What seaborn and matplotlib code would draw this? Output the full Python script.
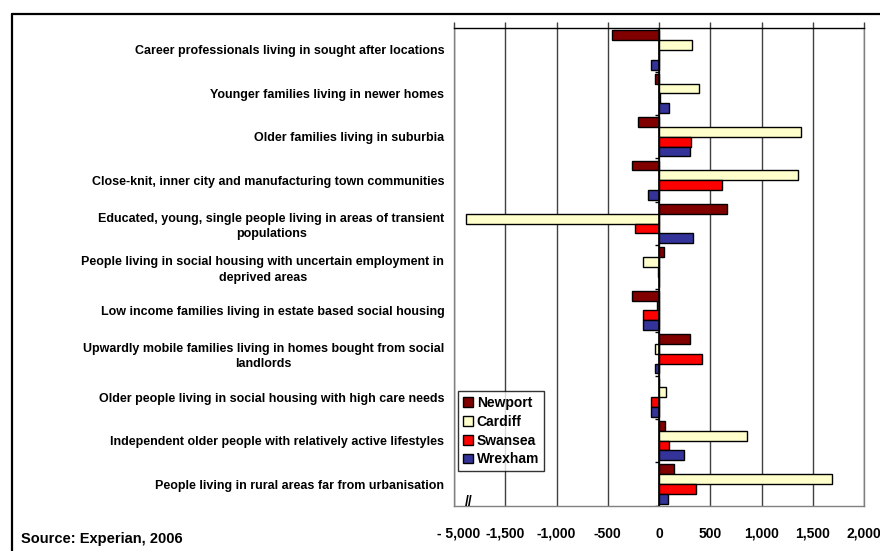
import matplotlib
matplotlib.use("Agg")
import matplotlib.pyplot as plt
from matplotlib.lines import Line2D
from matplotlib.patches import Patch
from matplotlib.transforms import ScaledTranslation
import numpy as np
import pandas as pd
import seaborn as sns

# Mosaic groups (top to bottom)
segments = [
    "Career professionals living in sought after locations",
    "Younger families living in newer homes",
    "Older families living in suburbia",
    "Close-knit, inner city and manufacturing town communities",
    "Educated, young, single people living in areas of transient\npopulations",
    "People living in social housing with uncertain employment in\ndeprived areas",
    "Low income families living in estate based social housing",
    "Upwardly mobile families living in homes bought from social\nlandlords",
    "Older people living in social housing with high care needs",
    "Independent older people with relatively active lifestyles",
    "People living in rural areas far from urbanisation",
]

cities = ["Newport", "Cardiff", "Swansea", "Wrexham"]

newport = [-455, -45, -211, -260, 660, 45, -266, 296, -5, 55, 140]
# The Cardiff bar for the transient-population group runs past the axis break;
# it is held at its position on the truncated scale (leftmost tick reads -5,000).
cardiff = [325, 390, 1381, 1352, -1880, -153, -23, -39, 62, 861, 1689]
swansea = [-5, 10, 309, 617, -237, -15, -159, 416, -81, 97, 357]
wrexham = [-84, 100, 296, -104, 331, -5, -159, -45, -75, 240, 84]

tick_values = [-2000, -1500, -1000, -500, 0, 500, 1000, 1500, 2000]
tick_labels = ["- 5,000", "-1,500", "-1,000", "-500", "0", "500", "1,000", "1,500", "2,000"]

colors = {"Newport": "#800000", "Cardiff": "#FFFFCC", "Swansea": "#FF0000", "Wrexham": "#333399"}

df = pd.DataFrame({
    "segment": segments * 4,
    "city": np.repeat(cities, len(segments)),
    "change": newport + cardiff + swansea + wrexham,
})

sns.set_style("white")
plt.rcParams["font.family"] = ["Liberation Sans", "DejaVu Sans"]
plt.rcParams["font.weight"] = "bold"
plt.rcParams["text.color"] = "black"
plt.rcParams["xtick.color"] = "black"
plt.rcParams["ytick.color"] = "black"
plt.rcParams["xtick.labelcolor"] = "black"
plt.rcParams["ytick.labelcolor"] = "black"

W, H = 880, 551
fig = plt.figure(figsize=(W / 100, H / 100), dpi=100)
ax = fig.add_axes([454 / W, 1 - 505.7 / H, (864.3 - 454) / W, (505.7 - 28.3) / H])

sns.barplot(data=df, y="segment", x="change", hue="city", hue_order=cities,
            order=segments, orient="h", palette=colors, saturation=1, width=0.9,
            edgecolor="black", linewidth=1.0, legend=False, ax=ax, errorbar=None)

ax.set_xlim(-2000, 2000)
ax.set_ylim(len(segments) - 0.5, -0.5)
ax.set_xlabel("")
ax.set_ylabel("")

# Value axis: grid, tick marks along the top, labels below
ax.set_xticks(tick_values)
ax.set_xticklabels(tick_labels, fontsize=10, fontweight="bold", color="black")
ax.xaxis.grid(True, color="#404040", linewidth=1.0)
ax.set_axisbelow(True)
ax.tick_params(axis="x", top=True, bottom=False, labeltop=False, labelbottom=True,
               direction="out", length=4, width=1, color="#404040", pad=11)
first = ax.get_xticklabels()[0]
first.set_transform(first.get_transform() + ScaledTranslation(5 / 100, 0, fig.dpi_scale_trans))

# Category labels at the left edge of the plot area
ax.tick_params(axis="y", length=0, pad=7)
for lab in ax.get_yticklabels():
    lab.set_fontsize(9)
    lab.set_fontweight("bold")
    lab.set_color("black")
    lab.set_multialignment("center")
    lab.set_linespacing(1.35)

for side in ["left", "right", "bottom"]:
    ax.spines[side].set_color("#808080")
    ax.spines[side].set_linewidth(1.0)
ax.spines["top"].set_color("black")
ax.spines["top"].set_linewidth(1.0)

# Category axis at zero with tick marks between groups
ax.axvline(0, color="black", linewidth=1.2, zorder=5)
ax.hlines(np.arange(len(segments) + 1) - 0.5, -40, 0, color="black", linewidth=1.0, zorder=5)

# Axis-break marker
ax.text(0.037, 0.007, "//", transform=ax.transAxes, fontsize=10, fontweight="bold",
        ha="center", va="center", clip_on=False)

handles = [Patch(facecolor=colors[c], edgecolor="black", linewidth=1.0, label=c) for c in cities]
leg = ax.legend(handles=handles, loc="upper left", bbox_to_anchor=(458 / W, 1 - 391 / H),
                bbox_transform=fig.transFigure, borderaxespad=0,
                prop={"weight": "bold", "size": 10}, frameon=True, fancybox=False,
                handlelength=0.7, handleheight=0.7, handletextpad=0.3,
                labelspacing=0.35, borderpad=0.35)
leg.get_frame().set_edgecolor("black")
leg.get_frame().set_linewidth(1.0)
for t in leg.get_texts():
    t.set_color("black")

fig.text(21 / W, 1 - 539 / H, "Source: Experian, 2006", fontsize=10.5, fontweight="bold",
         ha="left", va="center", color="black")

# Outer chart border (left and top edges)
fig.add_artist(Line2D([12 / W, 12 / W], [0, 1 - 14 / H], transform=fig.transFigure,
                      color="black", linewidth=1.6))
fig.add_artist(Line2D([12 / W, 1], [1 - 14 / H, 1 - 14 / H], transform=fig.transFigure,
                      color="black", linewidth=1.6))

fig.savefig("out.png", dpi=100, facecolor="white")
